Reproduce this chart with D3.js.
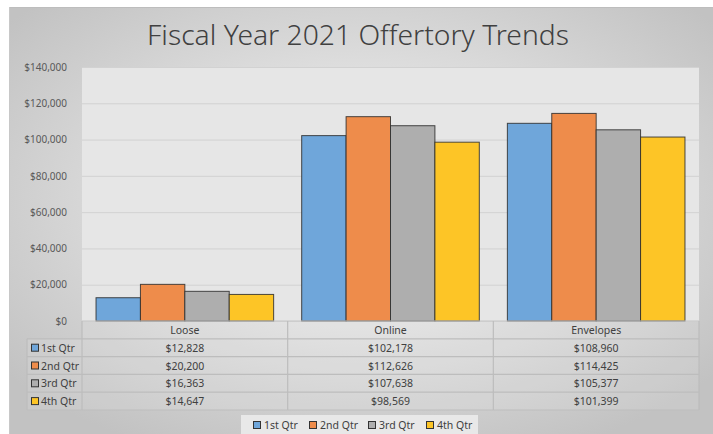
<!DOCTYPE html>
<html>
<head>
<meta charset="utf-8">
<script src="https://cdn.jsdelivr.net/npm/d3@7"></script>
<style>
  body { margin: 0; background: #fff; }
  svg text { font-family: "Noto Sans", "Open Sans", sans-serif; }
</style>
</head>
<body>
<div id="chart"></div>
<script>
// ---- data ----
const categories = ["Loose", "Online", "Envelopes"];
const seriesNames = ["1st Qtr", "2nd Qtr", "3rd Qtr", "4th Qtr"];
const q1 = [12828, 102178, 108960];
const q2 = [20200, 112626, 114425];
const q3 = [16363, 107638, 105377];
const q4 = [14647, 98569, 101399];
const yTicks = [0, 20000, 40000, 60000, 80000, 100000, 120000, 140000];
const colors = ["#6fa6da", "#ee8c4b", "#aeaeae", "#fdc526"];

const seriesValues = [q1, q2, q3, q4];

const W = 713, H = 434;
const plot = { left: 82, right: 699, top: 67, bottom: 321 };
const rowH = 17.8;
const keyLeft = 27;

const svg = d3.select("#chart").append("svg")
  .attr("width", W).attr("height", H);

// background gradient
const defs = svg.append("defs");
const grad = defs.append("radialGradient").attr("id", "bg")
  .attr("cx", "50%").attr("cy", "45%").attr("r", "65%");
grad.append("stop").attr("offset", "0%").attr("stop-color", "#f6f6f6");
grad.append("stop").attr("offset", "100%").attr("stop-color", "#c2c2c2");

svg.append("rect")
  .attr("x", 9).attr("y", 7)
  .attr("width", W - 9).attr("height", H - 7)
  .attr("fill", "url(#bg)");
svg.append("line")
  .attr("x1", 9).attr("x2", W).attr("y1", 7.5).attr("y2", 7.5)
  .attr("stroke", "#bdbdbd");
svg.append("line")
  .attr("x1", 9.5).attr("x2", 9.5).attr("y1", 7).attr("y2", H)
  .attr("stroke", "#c8c8c8");

// title
const title = svg.append("text")
  .attr("x", 358).attr("y", 45)
  .attr("text-anchor", "middle")
  .attr("fill", "#404040")
  .attr("font-size", 30)
  .style("font-weight", 300)
  .text("Fiscal Year 2021 Offertory Trends");
const tl = title.node().getComputedTextLength();
title.attr("font-size", 30 * 422 / tl);

// scales
const x0 = d3.scaleBand().domain(categories).range([plot.left, plot.right]);
const x1 = d3.scaleBand().domain(seriesNames)
  .range([0, x0.bandwidth()]).paddingInner(0).paddingOuter(0.316);
const y = d3.scaleLinear().domain([0, 140000]).range([plot.bottom, plot.top]);

// plot area
svg.append("rect")
  .attr("x", plot.left).attr("y", plot.top)
  .attr("width", plot.right - plot.left).attr("height", plot.bottom - plot.top)
  .attr("fill", "#e6e6e6");

// gridlines
svg.append("g")
  .attr("transform", "translate(" + plot.left + ",0)")
  .call(d3.axisLeft(y).tickValues(yTicks).tickSize(-(plot.right - plot.left)).tickFormat(""))
  .call(g => g.select(".domain").remove())
  .call(g => g.selectAll("line").attr("stroke", "#d2d2d2"));

// y axis labels
svg.append("g")
  .attr("transform", "translate(" + plot.left + ",0)")
  .call(d3.axisLeft(y).tickValues(yTicks).tickSize(0).tickPadding(15)
    .tickFormat(d => "$" + d3.format(",")(d)))
  .call(g => g.select(".domain").remove())
  .call(g => g.selectAll("text")
    .attr("fill", "#595959").attr("font-size", 10)
    .style("font-family", "'Noto Sans', sans-serif"));

// bars
const groups = svg.append("g").selectAll("g")
  .data(seriesNames)
  .join("g")
  .attr("fill", (d, i) => colors[i]);

groups.selectAll("rect")
  .data((s, si) => categories.map((c, ci) => ({ c: c, s: s, v: seriesValues[si][ci] })))
  .join("rect")
  .attr("x", d => x0(d.c) + x1(d.s))
  .attr("y", d => y(d.v))
  .attr("width", x1.bandwidth())
  .attr("height", d => y(0) - y(d.v))
  .attr("stroke", "#2b2b2b")
  .attr("stroke-opacity", 0.85)
  .attr("stroke-width", 1);

// data table
const table = svg.append("g");
const tableBottom = plot.bottom + rowH * (seriesNames.length + 1);
const gridColor = "#bdbdbd";

table.append("rect")
  .attr("x", plot.left).attr("y", plot.bottom)
  .attr("width", plot.right - plot.left).attr("height", rowH * (seriesNames.length + 1))
  .attr("fill", "#ffffff").attr("fill-opacity", 0.12);
table.append("rect")
  .attr("x", keyLeft).attr("y", plot.bottom + rowH)
  .attr("width", plot.left - keyLeft).attr("height", rowH * seriesNames.length)
  .attr("fill", "#ffffff").attr("fill-opacity", 0.12);

// horizontal lines
d3.range(seriesNames.length + 2).forEach(i => {
  const yy = plot.bottom + i * rowH;
  table.append("line")
    .attr("x1", i === 0 ? plot.left : keyLeft).attr("x2", plot.right)
    .attr("y1", yy).attr("y2", yy)
    .attr("stroke", i === 0 ? "#c4c4c4" : gridColor).attr("stroke-width", 1.2);
});
// vertical lines
[keyLeft].forEach(xx => {
  table.append("line")
    .attr("x1", xx).attr("x2", xx)
    .attr("y1", plot.bottom + rowH).attr("y2", tableBottom)
    .attr("stroke", gridColor).attr("stroke-width", 1.2);
});
categories.concat(["end"]).forEach((c, i) => {
  const xx = plot.left + i * x0.bandwidth();
  table.append("line")
    .attr("x1", xx).attr("x2", xx)
    .attr("y1", plot.bottom).attr("y2", tableBottom)
    .attr("stroke", gridColor).attr("stroke-width", 1.2);
});

// header text
table.selectAll(".hdr")
  .data(categories)
  .join("text")
  .attr("class", "hdr")
  .attr("x", d => x0(d) + x0.bandwidth() / 2)
  .attr("y", plot.bottom + rowH / 2 + 4)
  .attr("text-anchor", "middle")
  .attr("fill", "#404040").attr("font-size", 10.5)
  .text(d => d);

// rows
seriesNames.forEach((s, si) => {
  const ry = plot.bottom + rowH * (si + 1);
  table.append("rect")
    .attr("x", keyLeft + 4.5).attr("y", ry + rowH / 2 - 3.5)
    .attr("width", 7).attr("height", 7)
    .attr("fill", colors[si]).attr("stroke", "#333").attr("stroke-width", 1);
  table.append("text")
    .attr("x", keyLeft + 14).attr("y", ry + rowH / 2 + 4)
    .attr("fill", "#404040").attr("font-size", 10.5)
    .text(s);
  categories.forEach((c, ci) => {
    table.append("text")
      .attr("x", x0(c) + x0.bandwidth() / 2)
      .attr("y", ry + rowH / 2 + 4)
      .attr("text-anchor", "middle")
      .attr("fill", "#404040").attr("font-size", 10.5)
      .text("$" + d3.format(",")(seriesValues[si][ci]));
  });
});

// legend
const legend = svg.append("g");
legend.append("rect")
  .attr("x", 241).attr("y", 415)
  .attr("width", 237).attr("height", 19)
  .attr("fill", "#e8e8e8");
const legendX = [253, 309, 368, 426];
seriesNames.forEach((s, i) => {
  legend.append("rect")
    .attr("x", legendX[i] + 0.5).attr("y", 421.5)
    .attr("width", 7).attr("height", 7)
    .attr("fill", colors[i]).attr("stroke", "#333").attr("stroke-width", 1);
  legend.append("text")
    .attr("x", legendX[i] + 11).attr("y", 429)
    .attr("fill", "#404040").attr("font-size", 10.5)
    .text(s);
});
</script>
</body>
</html>
